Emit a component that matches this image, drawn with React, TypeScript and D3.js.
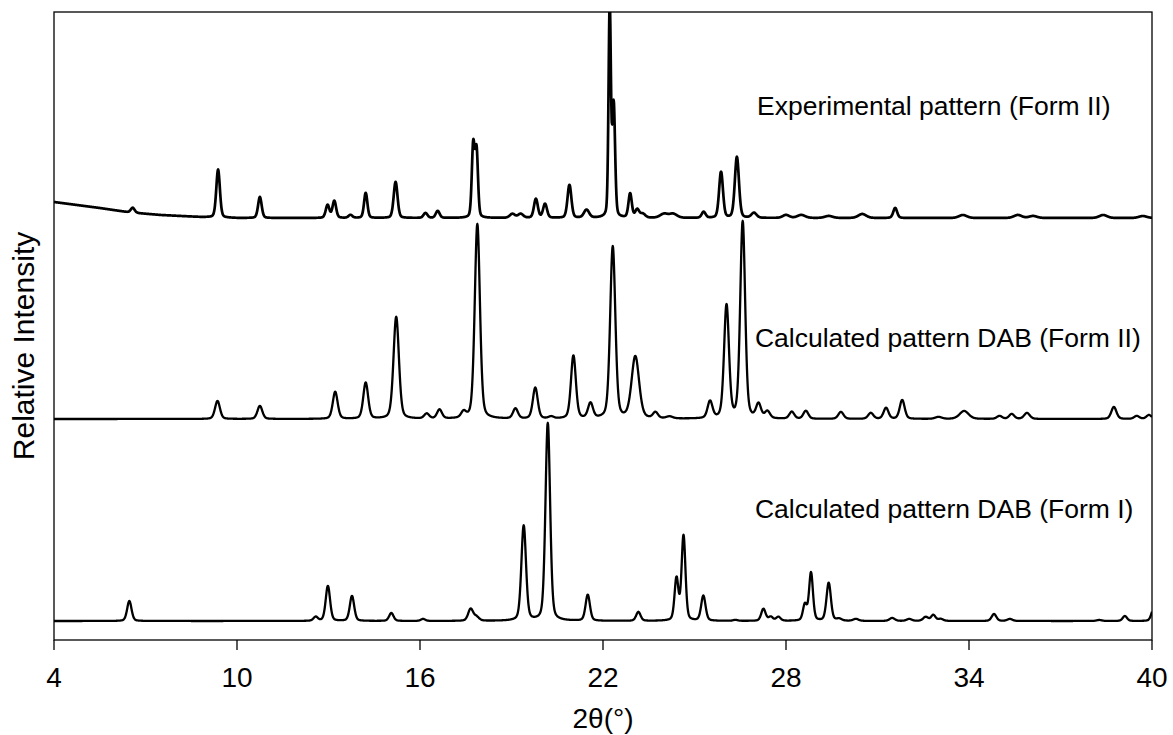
import React from 'react';
import * as d3 from 'd3';

const W = 1173;
const H = 735;
const M = { left: 54, right: 21, top: 12, bottom: 95 };

const xTicks = [4, 10, 16, 22, 28, 34, 40];
const xTitle = '2θ(°)';
const yTitle = 'Relative Intensity';

// Experimental pattern (Form II): peak positions (2θ), heights (a.u.), FWHM (°)
const expPos = [6.58, 9.38, 10.75, 12.97, 13.19, 13.72, 14.22, 15.2, 16.18, 16.58, 17.745, 17.855, 19.03, 19.3, 19.8, 20.1, 20.9, 21.46, 22.22, 22.35, 22.89, 23.12, 23.3, 24.0, 24.3, 25.3, 25.87, 26.39, 26.95, 28.0, 28.5, 29.4, 30.5, 31.58, 33.8, 35.6, 36.1, 38.4, 39.7];
const expHt = [5, 48, 21, 13, 17, 3, 25, 36, 5, 7, 72, 66, 4, 4, 19, 14, 33, 8, 212, 112, 24, 8, 4, 4, 4, 6, 46, 61, 5, 3, 3, 2, 4, 10, 3, 3, 2, 3, 2];
const expFwhm = [0.15, 0.14, 0.14, 0.14, 0.14, 0.15, 0.13, 0.15, 0.15, 0.15, 0.11, 0.11, 0.2, 0.2, 0.15, 0.15, 0.15, 0.2, 0.09, 0.11, 0.13, 0.15, 0.2, 0.3, 0.3, 0.15, 0.15, 0.16, 0.2, 0.25, 0.3, 0.3, 0.3, 0.15, 0.3, 0.3, 0.3, 0.3, 0.3];
const expBgPos = [4, 4.5, 5, 5.5, 6.5, 7.5, 8.8, 10, 40];
const expBgHt = [16, 14, 12, 10, 5.5, 3, 1, 0, 0];
const expOffset = 422;

// Calculated pattern DAB (Form II)
const f2Pos = [9.36, 10.75, 13.22, 14.22, 15.22, 16.22, 16.64, 17.43, 17.88, 19.13, 19.78, 20.3, 21.03, 21.59, 22.32, 23.06, 23.72, 24.18, 25.51, 26.05, 26.58, 27.1, 27.39, 28.19, 28.65, 29.8, 30.78, 31.28, 31.81, 33.0, 33.84, 35.0, 35.4, 35.9, 38.75, 39.5, 39.9];
const f2Ht = [18, 13, 27, 36, 102, 5, 9, 6, 195, 10, 31, 2, 63, 15, 172, 62, 6, 2, 17, 113, 197, 14, 7, 7, 8, 7, 6, 11, 19, 2, 8, 3, 5, 6, 12, 3, 4];
const f2Fwhm = [0.19, 0.19, 0.19, 0.19, 0.21, 0.19, 0.19, 0.19, 0.2, 0.19, 0.19, 0.19, 0.19, 0.19, 0.2, 0.29, 0.19, 0.25, 0.19, 0.19, 0.19, 0.19, 0.2, 0.19, 0.19, 0.2, 0.2, 0.19, 0.19, 0.25, 0.35, 0.2, 0.2, 0.22, 0.2, 0.2, 0.2];
const f2Offset = 221;

// Calculated pattern DAB (Form I)
const f1Pos = [6.47, 12.58, 12.98, 13.77, 15.06, 16.1, 17.66, 17.85, 19.4, 20.19, 21.5, 23.16, 24.41, 24.64, 25.29, 26.34, 27.26, 27.5, 27.75, 28.62, 28.82, 29.4, 29.74, 30.29, 31.48, 32.04, 32.58, 32.83, 33.07, 34.82, 35.34, 38.27, 39.11, 40.05];
const f1Ht = [20, 4, 35, 25, 8, 2, 12, 4, 95, 198, 26, 9, 42, 85, 25, 1, 12, 4, 4, 16, 48, 38, 2, 2, 3, 2, 4, 6, 2, 7, 2, 1, 5, 12];
const f1Fwhm = [0.17, 0.17, 0.17, 0.17, 0.17, 0.17, 0.19, 0.2, 0.18, 0.18, 0.17, 0.17, 0.15, 0.15, 0.17, 0.17, 0.17, 0.17, 0.17, 0.15, 0.15, 0.17, 0.2, 0.2, 0.2, 0.2, 0.2, 0.17, 0.2, 0.18, 0.2, 0.2, 0.17, 0.17];
const f1Offset = 19;

const labelText = ['Experimental pattern (Form II)', 'Calculated pattern DAB (Form II)', 'Calculated pattern DAB (Form I)'];
const label2T = [27.05, 26.98, 26.98];
const labelI = [525, 293, 122];

function pattern(xs: number[], pos: number[], ht: number[], fw: number[], eta: number, offset: number, bgPos?: number[], bgHt?: number[]): [number, number][] {
  const bg = bgPos && bgHt ? d3.scaleLinear().domain(bgPos).range(bgHt).clamp(true) : null;
  return xs.map((x) => {
    let s = offset + (bg ? bg(x) : 0);
    for (let i = 0; i < pos.length; i++) {
      const d = (x - pos[i]) / fw[i];
      const g = Math.exp(-4 * Math.LN2 * d * d);
      const l = 1 / (1 + 4 * d * d);
      s += ht[i] * (eta * l + (1 - eta) * g);
    }
    return [x, s];
  });
}

export default function App() {
  const iw = W - M.left - M.right;
  const ih = H - M.top - M.bottom;
  const x = d3.scaleLinear().domain([4, 40]).range([M.left, M.left + iw]);
  const y = d3.scaleLinear().domain([0, 628]).range([M.top + ih, M.top]);
  const xs = d3.range(4, 40.0001, 0.01);

  const exp = pattern(xs, expPos, expHt, expFwhm, 0.25, expOffset, expBgPos, expBgHt);
  const f2 = pattern(xs, f2Pos, f2Ht, f2Fwhm, 0.3, f2Offset);
  const f1 = pattern(xs, f1Pos, f1Ht, f1Fwhm, 0.3, f1Offset);

  const line = d3.line<[number, number]>().x((d) => x(d[0])).y((d) => y(d[1])).curve(d3.curveMonotoneX);
  const font = "'Liberation Sans', Arial, sans-serif";
  const bottom = M.top + ih;

  return (
    <svg width={W} height={H} style={{ position: 'absolute', left: 0, top: 0, background: '#fff' }} fontFamily={font}>
      <defs>
        <clipPath id="plot">
          <rect x={M.left} y={M.top} width={iw} height={ih} />
        </clipPath>
      </defs>
      <g clipPath="url(#plot)" fill="none" stroke="#000" strokeLinejoin="round">
        <path d={line(exp) || ''} strokeWidth={2.7} />
        <path d={line(f2) || ''} strokeWidth={2.3} />
        <path d={line(f1) || ''} strokeWidth={2.3} />
      </g>
      <rect x={M.left} y={M.top} width={iw} height={ih} fill="none" stroke="#000" strokeWidth={1.3} />
      {xTicks.map((t) => (
        <g key={t}>
          <line x1={x(t)} x2={x(t)} y1={bottom} y2={bottom + 10} stroke="#000" strokeWidth={1.3} />
          <text x={x(t)} y={bottom + 47} textAnchor="middle" fontSize={28} fill="#000">{t}</text>
        </g>
      ))}
      <text x={M.left + iw / 2} y={bottom + 88} textAnchor="middle" fontSize={28} fill="#000">{xTitle}</text>
      <text transform={`translate(34, ${M.top + ih / 2 + 20}) rotate(-90)`} textAnchor="middle" fontSize={30} fill="#000">{yTitle}</text>
      {labelText.map((t, i) => (
        <text key={t} x={x(label2T[i])} y={y(labelI[i])} fontSize={26.5} fill="#000">{t}</text>
      ))}
    </svg>
  );
}
